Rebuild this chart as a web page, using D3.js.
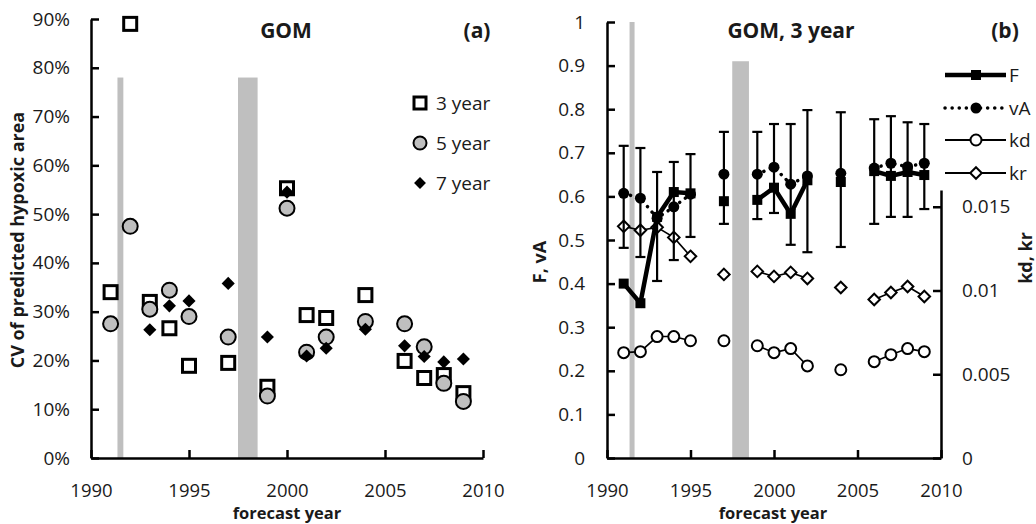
<!DOCTYPE html>
<html>
<head>
<meta charset="utf-8">
<script src="https://cdn.jsdelivr.net/npm/d3@7"></script>
<style>
  body { margin: 0; background: #fff; }
  text { font-family: 'Open Sans', sans-serif; fill: #1a1a1a; }
</style>
</head>
<body>
<svg id="chart" width="1036" height="524"></svg>
<script>
// forecast years shared by both panels
const years = [1991, 1992, 1993, 1994, 1995, 1997, 1999, 2000, 2001, 2002, 2004, 2006, 2007, 2008, 2009]

// panel (a): CV of predicted hypoxic area
const cv3 = [0.34, 0.89, 0.32, 0.266, 0.189, 0.195, 0.146, 0.553, 0.293, 0.287, 0.334, 0.199, 0.164, 0.17, 0.133]
const cv5 = [0.275, 0.475, 0.305, 0.344, 0.29, 0.248, 0.127, 0.512, 0.217, 0.248, 0.28, 0.275, 0.228, 0.153, 0.116]
const cv7Years = [1993, 1994, 1995, 1997, 1999, 2000, 2001, 2002, 2004, 2006, 2007, 2008, 2009]
const cv7 = [0.263, 0.312, 0.322, 0.358, 0.248, 0.545, 0.209, 0.225, 0.264, 0.23, 0.208, 0.197, 0.203]

// panel (b): parameters, 3 year
const F = [0.4, 0.355, 0.553, 0.61, 0.607, 0.589, 0.592, 0.62, 0.56, 0.637, 0.633, 0.658, 0.647, 0.656, 0.649]
const vA = [0.607, 0.596, 0.55, 0.576, 0.605, 0.651, 0.651, 0.667, 0.628, 0.647, 0.653, 0.665, 0.676, 0.668, 0.676]
const errHi = [0.716, 0.711, 0.656, 0.679, 0.697, 0.748, 0.748, 0.766, 0.766, 0.798, 0.793, 0.777, 0.784, 0.77, 0.766]
const errLo = [0.482, 0.461, 0.406, 0.454, 0.507, 0.537, 0.548, 0.562, 0.489, 0.472, 0.484, 0.537, 0.553, 0.553, 0.571]
const kd = [0.00629, 0.00635, 0.00725, 0.00725, 0.0070, 0.0070, 0.0067, 0.00629, 0.00653, 0.0055, 0.00527, 0.00575, 0.00617, 0.00653, 0.00635]
const kr = [0.01383, 0.0136, 0.01377, 0.01317, 0.01204, 0.01096, 0.01114, 0.01084, 0.01108, 0.01072, 0.01018, 0.00946, 0.00988, 0.01024, 0.00964]

// shaded periods
const bandStart = [1991.35, 1997.5]
const bandEnd = [1991.65, 1998.5]
const bandTopA = [0.78, 0.78]
const bandTopB = [1.0, 0.91]

// tick labels
const xTicks = [1990, 1995, 2000, 2005, 2010]
const yTicksA = [0, 0.1, 0.2, 0.3, 0.4, 0.5, 0.6, 0.7, 0.8, 0.9]
const yLabelsA = ['0%', '10%', '20%', '30%', '40%', '50%', '60%', '70%', '80%', '90%']
const yTicksB = [0, 0.1, 0.2, 0.3, 0.4, 0.5, 0.6, 0.7, 0.8, 0.9, 1]
const yLabelsB = ['0', '0.1', '0.2', '0.3', '0.4', '0.5', '0.6', '0.7', '0.8', '0.9', '1']
const y2Ticks = [0, 0.005, 0.01, 0.015]
const y2Labels = ['0', '0.005', '0.01', '0.015']

const svg = d3.select('#chart')
const GRAY = '#bfbfbf'

// split indices into runs of consecutive years
function runs (yrs) {
  const out = []
  let cur = [0]
  for (let i = 1; i < yrs.length; i++) {
    if (yrs[i] - yrs[i - 1] === 1) cur.push(i)
    else { out.push(cur); cur = [i] }
  }
  out.push(cur)
  return out
}

function styleAxis (g, size) {
  g.selectAll('path').attr('stroke', '#000').attr('stroke-width', 2.5)
  g.selectAll('line').attr('stroke', '#000').attr('stroke-width', 2.5)
  g.selectAll('text').style('font-size', (size || 19) + 'px').attr('fill', '#1a1a1a')
}

// ---------------- panel (a) ----------------
const xA = d3.scaleLinear().domain([1990, 2010]).range([91, 483])
const yA = d3.scaleLinear().domain([0, 0.9]).range([458, 19])

const pa = svg.append('g')

pa.selectAll('rect.band').data(bandStart).join('rect')
  .attr('x', (d, i) => xA(d))
  .attr('width', (d, i) => xA(bandEnd[i]) - xA(d))
  .attr('y', (d, i) => yA(bandTopA[i]))
  .attr('height', (d, i) => yA(0) - yA(bandTopA[i]))
  .attr('fill', GRAY)

pa.append('g')
  .attr('transform', `translate(0,${yA(0)})`)
  .call(d3.axisBottom(xA).tickValues(xTicks).tickFormat(d3.format('d'))
    .tickSizeInner(-8).tickSizeOuter(0).tickPadding(26))
  .call(styleAxis, 18.5)

pa.append('g')
  .attr('transform', `translate(${xA(1990)},0)`)
  .call(d3.axisLeft(yA).tickValues(yTicksA).tickFormat((d, i) => yLabelsA[i])
    .tickSizeInner(-8).tickSizeOuter(0).tickPadding(21))
  .call(styleAxis)

pa.selectAll('rect.s3').data(cv3).join('rect')
  .attr('x', (d, i) => xA(years[i]) - 6.5)
  .attr('y', d => yA(d) - 6.5)
  .attr('width', 13).attr('height', 13)
  .attr('fill', '#fff').attr('stroke', '#000').attr('stroke-width', 3)

pa.selectAll('circle.s5').data(cv5).join('circle')
  .attr('cx', (d, i) => xA(years[i]))
  .attr('cy', d => yA(d))
  .attr('r', 7.5)
  .attr('fill', GRAY).attr('stroke', '#000').attr('stroke-width', 2)

const diamond = d3.symbol().type(d3.symbolDiamond2)

pa.selectAll('path.s7').data(cv7).join('path')
  .attr('d', diamond.size(110)())
  .attr('transform', (d, i) => `translate(${xA(cv7Years[i])},${yA(d)})`)
  .attr('fill', '#000')

pa.append('text').attr('x', 286).attr('y', 38).attr('text-anchor', 'middle')
  .style('font-size', '21px').style('font-weight', 'bold').text('GOM')
pa.append('text').attr('x', 477).attr('y', 38).attr('text-anchor', 'middle')
  .style('font-size', '21px').style('font-weight', 'bold').text('(a)')

pa.append('text').attr('transform', 'translate(24,240) rotate(-90)')
  .attr('text-anchor', 'middle').style('font-size', '18px').style('font-weight', 'bold')
  .text('CV of predicted hypoxic area')
pa.append('text').attr('x', 287).attr('y', 519).attr('text-anchor', 'middle')
  .style('font-size', '16.5px').style('font-weight', 'bold').text('forecast year')

// legend (a)
const legA = pa.append('g')
legA.append('rect').attr('x', 414).attr('y', 97).attr('width', 12).attr('height', 12)
  .attr('fill', '#fff').attr('stroke', '#000').attr('stroke-width', 3)
legA.append('circle').attr('cx', 420).attr('cy', 143).attr('r', 6.5)
  .attr('fill', GRAY).attr('stroke', '#000').attr('stroke-width', 2)
legA.append('path').attr('d', diamond.size(90)()).attr('transform', 'translate(420,183)').attr('fill', '#000')
const legLabelsA = ['3 year', '5 year', '7 year']
legA.selectAll('text').data(legLabelsA).join('text')
  .attr('x', 436).attr('y', (d, i) => 110 + i * 40)
  .style('font-size', '19px').text(d => d)

// ---------------- panel (b) ----------------
const xB = d3.scaleLinear().domain([1990, 2010]).range([607, 941])
const yB = d3.scaleLinear().domain([0, 1]).range([458, 22])
const yB2 = d3.scaleLinear().domain([0, 0.016]).range([458, 190])

const pb = svg.append('g')

pb.selectAll('rect.band').data(bandStart).join('rect')
  .attr('x', (d, i) => xB(d))
  .attr('width', (d, i) => xB(bandEnd[i]) - xB(d))
  .attr('y', (d, i) => yB(bandTopB[i]))
  .attr('height', (d, i) => yB(0) - yB(bandTopB[i]))
  .attr('fill', GRAY)

pb.append('g')
  .attr('transform', `translate(0,${yB(0)})`)
  .call(d3.axisBottom(xB).tickValues(xTicks).tickFormat(d3.format('d'))
    .tickSizeInner(-8).tickSizeOuter(0).tickPadding(26))
  .call(styleAxis, 18.5)

pb.append('g')
  .attr('transform', `translate(${xB(1990)},0)`)
  .call(d3.axisLeft(yB).tickValues(yTicksB).tickFormat((d, i) => yLabelsB[i])
    .tickSizeInner(-8).tickSizeOuter(0).tickPadding(22))
  .call(styleAxis)

pb.append('g')
  .attr('transform', `translate(${xB(2010)},0)`)
  .call(d3.axisRight(yB2).tickValues(y2Ticks).tickFormat((d, i) => y2Labels[i])
    .tickSizeInner(-8).tickSizeOuter(0).tickPadding(21))
  .call(styleAxis)

const segs = runs(years)

function drawSeries (vals, yScale, width, dash) {
  const line = d3.line().x(i => xB(years[i])).y(i => yScale(vals[i]))
  pb.append('g').selectAll('path').data(segs.filter(s => s.length > 1)).join('path')
    .attr('d', line)
    .attr('fill', 'none').attr('stroke', '#000').attr('stroke-width', width)
    .attr('stroke-dasharray', dash || null)
    .attr('stroke-linecap', dash ? 'round' : 'butt')
}

// kr
drawSeries(kr, yB2, 1.6)
pb.selectAll('path.kr').data(kr).join('path')
  .attr('d', diamond.size(85)())
  .attr('transform', (d, i) => `translate(${xB(years[i])},${yB2(d)})`)
  .attr('fill', '#fff').attr('stroke', '#000').attr('stroke-width', 2)

// kd
drawSeries(kd, yB2, 1.6)
pb.selectAll('circle.kd').data(kd).join('circle')
  .attr('cx', (d, i) => xB(years[i]))
  .attr('cy', d => yB2(d))
  .attr('r', 5.5)
  .attr('fill', '#fff').attr('stroke', '#000').attr('stroke-width', 2)

// error bars
const eb = pb.append('g').attr('stroke', '#000').attr('stroke-width', 2.2)
eb.selectAll('line.v').data(years).join('line')
  .attr('x1', d => xB(d)).attr('x2', d => xB(d))
  .attr('y1', (d, i) => yB(errHi[i])).attr('y2', (d, i) => yB(errLo[i]))
eb.selectAll('line.t').data(years).join('line')
  .attr('x1', d => xB(d) - 5).attr('x2', d => xB(d) + 5)
  .attr('y1', (d, i) => yB(errHi[i])).attr('y2', (d, i) => yB(errHi[i]))
eb.selectAll('line.b').data(years).join('line')
  .attr('x1', d => xB(d) - 5).attr('x2', d => xB(d) + 5)
  .attr('y1', (d, i) => yB(errLo[i])).attr('y2', (d, i) => yB(errLo[i]))

// vA dotted
drawSeries(vA, yB, 3.5, '0.1,7')
pb.selectAll('circle.va').data(vA).join('circle')
  .attr('cx', (d, i) => xB(years[i]))
  .attr('cy', d => yB(d))
  .attr('r', 5.5).attr('fill', '#000')

// F thick
drawSeries(F, yB, 4.5)
pb.selectAll('rect.f').data(F).join('rect')
  .attr('x', (d, i) => xB(years[i]) - 5)
  .attr('y', d => yB(d) - 5)
  .attr('width', 10).attr('height', 10).attr('fill', '#000')

pb.append('text').attr('x', 791).attr('y', 38).attr('text-anchor', 'middle')
  .style('font-size', '21px').style('font-weight', 'bold').text('GOM, 3 year')
pb.append('text').attr('x', 1005).attr('y', 38).attr('text-anchor', 'middle')
  .style('font-size', '21px').style('font-weight', 'bold').text('(b)')

pb.append('text').attr('transform', 'translate(546,262) rotate(-90)')
  .attr('text-anchor', 'middle').style('font-size', '18px').style('font-weight', 'bold')
  .text('F, vA')
pb.append('text').attr('transform', 'translate(1032,258) rotate(-90)')
  .attr('text-anchor', 'middle').style('font-size', '18px').style('font-weight', 'bold')
  .text('kd, kr')
pb.append('text').attr('x', 773).attr('y', 519).attr('text-anchor', 'middle')
  .style('font-size', '16.5px').style('font-weight', 'bold').text('forecast year')

// legend (b)
const legB = pb.append('g')
const lx1 = 945
const lx2 = 1006
const lmid = 976
legB.append('line').attr('x1', lx1).attr('x2', lx2).attr('y1', 75).attr('y2', 75)
  .attr('stroke', '#000').attr('stroke-width', 4.5)
legB.append('rect').attr('x', lmid - 5).attr('y', 70).attr('width', 10).attr('height', 10).attr('fill', '#000')
legB.append('line').attr('x1', lx1).attr('x2', lx2).attr('y1', 108).attr('y2', 108)
  .attr('stroke', '#000').attr('stroke-width', 3.5).attr('stroke-dasharray', '0.1,7').attr('stroke-linecap', 'round')
legB.append('circle').attr('cx', lmid).attr('cy', 108).attr('r', 5.5).attr('fill', '#000')
legB.append('line').attr('x1', lx1).attr('x2', lx2).attr('y1', 140).attr('y2', 140)
  .attr('stroke', '#000').attr('stroke-width', 1.8)
legB.append('circle').attr('cx', lmid).attr('cy', 140).attr('r', 5.5)
  .attr('fill', '#fff').attr('stroke', '#000').attr('stroke-width', 2)
legB.append('line').attr('x1', lx1).attr('x2', lx2).attr('y1', 173).attr('y2', 173)
  .attr('stroke', '#000').attr('stroke-width', 1.8)
legB.append('path').attr('d', diamond.size(85)()).attr('transform', `translate(${lmid},173)`)
  .attr('fill', '#fff').attr('stroke', '#000').attr('stroke-width', 2)
const legLabelsB = ['F', 'vA', 'kd', 'kr']
legB.selectAll('text').data(legLabelsB).join('text')
  .attr('x', 1009).attr('y', (d, i) => [82, 115, 147, 180][i])
  .style('font-size', '19px').text(d => d)
</script>
</body>
</html>
